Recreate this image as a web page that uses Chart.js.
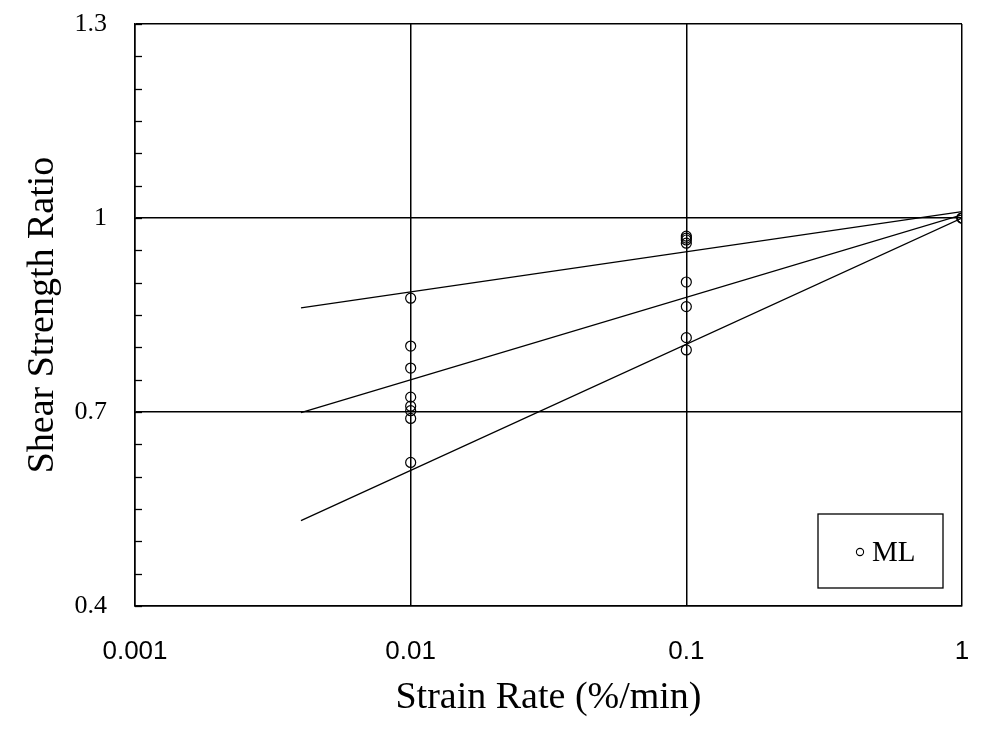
<!DOCTYPE html>
<html>
<head>
<meta charset="utf-8">
<script src="https://cdn.jsdelivr.net/npm/chart.js@4"></script>
<style>
  html, body { margin: 0; padding: 0; background: #fff; }
  #wrap { width: 984px; height: 730px; }
</style>
</head>
<body>
<div id="wrap"><canvas id="chart" width="984" height="730"></canvas></div>
<script>
// Measured values (shear strength ratio) at each strain rate
const rateLow   = 0.01;
const ratioLow  = [0.876, 0.802, 0.768, 0.723, 0.709, 0.702, 0.690, 0.622];
const rateMid   = 0.1;
const ratioMid  = [0.972, 0.969, 0.966, 0.961, 0.901, 0.863, 0.815, 0.796];
const rateHigh  = 1;
const ratioHigh = [1.0, 1.0, 1.0];

// Fitted trend lines (log-linear), end points
const fitX      = [0.004, 1];
const fitUpper  = [0.861, 1.010];
const fitMiddle = [0.699, 1.005];
const fitLower  = [0.532, 1.000];

// Axis ticks
const xTicks     = [0.001, 0.01, 0.1, 1];
const yTicks     = [0.4, 0.7, 1.0, 1.3];
const yMinorStep = 0.05;

const points = [
  ...ratioLow.map(v => ({ x: rateLow, y: v })),
  ...ratioMid.map(v => ({ x: rateMid, y: v })),
  ...ratioHigh.map(v => ({ x: rateHigh, y: v }))
];

const fitLine = ys => fitX.map((x, i) => ({ x, y: ys[i] }));
const lineStyle = {
  type: 'line', showLine: true, borderColor: '#000', borderWidth: 1.3,
  pointRadius: 0, fill: false, tension: 0
};

// Minor ticks on the left axis, pointing inward
const minorTicks = {
  id: 'minorTicks',
  afterDraw(chart) {
    const { ctx, chartArea } = chart;
    const y = chart.scales.y;
    ctx.save();
    ctx.strokeStyle = '#000';
    ctx.lineWidth = 1.3;
    for (let v = y.min; v <= y.max + 1e-9; v += yMinorStep) {
      const py = Math.round(y.getPixelForValue(v)) + 0.5;
      ctx.beginPath();
      ctx.moveTo(chartArea.left, py);
      ctx.lineTo(chartArea.left + 7, py);
      ctx.stroke();
    }
    ctx.restore();
  }
};

// Boxed legend in the lower right of the plot
const boxLegend = {
  id: 'boxLegend',
  afterDraw(chart) {
    const { ctx, chartArea } = chart;
    const bx = chartArea.right - 144, by = chartArea.bottom - 92, bw = 125, bh = 74;
    ctx.save();
    ctx.fillStyle = '#fff';
    ctx.fillRect(bx, by, bw, bh);
    ctx.strokeStyle = '#000';
    ctx.lineWidth = 1.3;
    ctx.strokeRect(bx, by, bw, bh);
    ctx.beginPath();
    ctx.arc(bx + 42, by + 38, 3.6, 0, Math.PI * 2);
    ctx.lineWidth = 1.1;
    ctx.stroke();
    ctx.fillStyle = '#000';
    ctx.font = '29px "Liberation Serif", "Times New Roman", serif';
    ctx.textBaseline = 'middle';
    ctx.fillText(chart.data.datasets[0].label, bx + 54, by + 39);
    ctx.restore();
  }
};

new Chart(document.getElementById('chart'), {
  type: 'scatter',
  data: {
    datasets: [
      {
        label: 'ML',
        data: points,
        pointStyle: 'circle',
        pointRadius: 5,
        pointBorderColor: '#000',
        pointBackgroundColor: 'rgba(0,0,0,0)',
        pointBorderWidth: 1.2
      },
      { ...lineStyle, label: 'fit1', data: fitLine(fitUpper) },
      { ...lineStyle, label: 'fit2', data: fitLine(fitMiddle) },
      { ...lineStyle, label: 'fit3', data: fitLine(fitLower) }
    ]
  },
  options: {
    responsive: false,
    animation: false,
    layout: { padding: { top: 24, right: 22, left: 0, bottom: 0 } },
    plugins: {
      legend: { display: false },
      tooltip: { enabled: false }
    },
    scales: {
      x: {
        type: 'logarithmic',
        min: 0.001,
        max: 1,
        afterBuildTicks: s => { s.ticks = xTicks.map(v => ({ value: v })); },
        afterFit: s => { s.height = 124; s.paddingLeft = 0; s.paddingRight = 0; },
        grid: { color: '#000', lineWidth: 1.5, drawTicks: false },
        border: { color: '#000', width: 1.5 },
        ticks: {
          padding: 30,
          color: '#000',
          font: { family: '"Liberation Sans", Arial, sans-serif', size: 26 },
          callback: v => String(v)
        },
        title: {
          display: true,
          text: 'Strain Rate (%/min)',
          color: '#000',
          font: { family: '"Liberation Serif", "Times New Roman", serif', size: 38 },
          padding: { top: 0, bottom: 9 }
        }
      },
      y: {
        min: 0.4,
        max: 1.3,
        afterBuildTicks: s => { s.ticks = yTicks.map(v => ({ value: v })); },
        afterFit: s => { s.width = 135; s.paddingTop = 0; s.paddingBottom = 0; },
        grid: { color: '#000', lineWidth: 1.5, drawTicks: false },
        border: { color: '#000', width: 1.5 },
        ticks: {
          padding: 28,
          color: '#000',
          font: { family: '"Liberation Serif", "Times New Roman", serif', size: 26 },
          callback: v => String(Math.round(v * 10) / 10)
        },
        title: {
          display: true,
          text: 'Shear Strength Ratio',
          color: '#000',
          font: { family: '"Liberation Serif", "Times New Roman", serif', size: 38 },
          padding: { top: 20, bottom: 0 }
        }
      }
    }
  },
  plugins: [minorTicks, boxLegend]
});
</script>
</body>
</html>
